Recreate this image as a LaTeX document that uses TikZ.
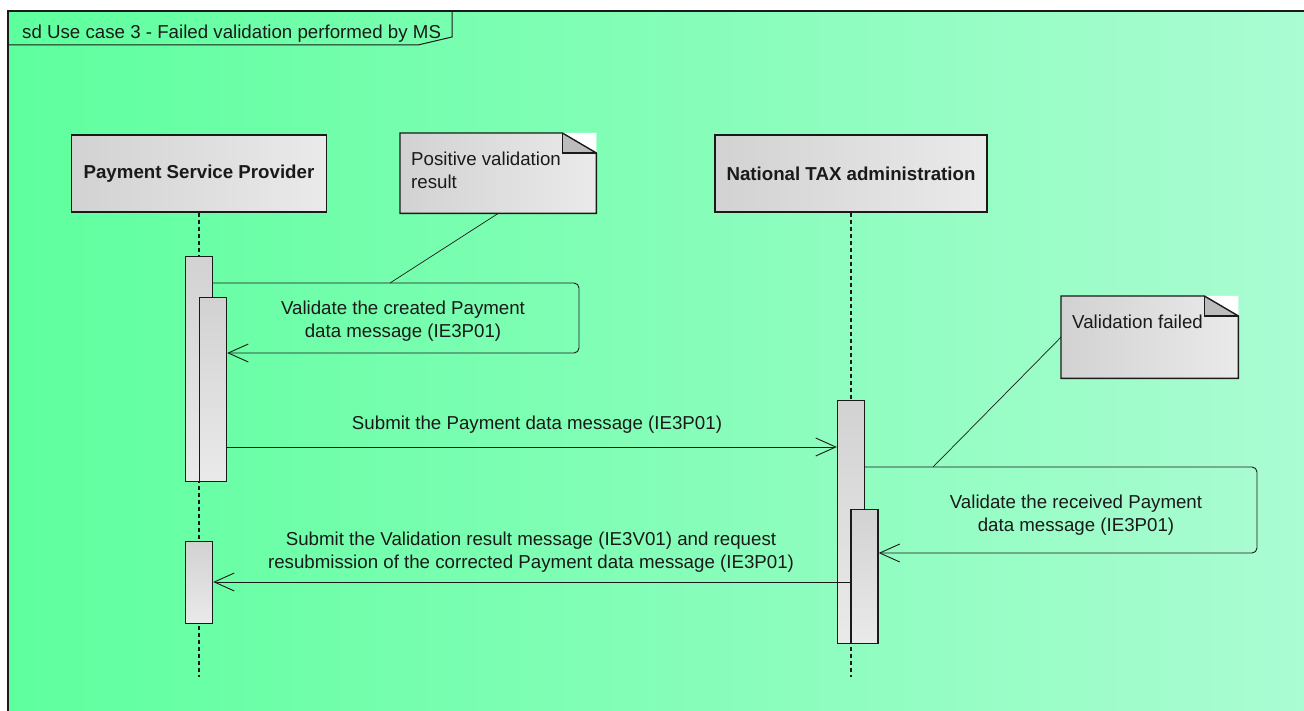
\documentclass[tikz,border=0pt]{standalone}
\usepackage{fontspec}
\setmainfont{Liberation Sans}
\usetikzlibrary{arrows.meta}

\definecolor{bgleft}{RGB}{94,255,158}
\definecolor{bgright}{RGB}{170,252,210}
\definecolor{boxdark}{RGB}{210,210,210}
\definecolor{boxlight}{RGB}{234,234,234}
\definecolor{folddark}{RGB}{188,188,188}
\definecolor{ink}{RGB}{26,26,26}

\tikzstyle{txt} = [font=\fontsize{18.7}{22.5}\selectfont, text=ink, inner sep=0pt]
\tikzstyle{lifebox} = [txt, draw=ink, line width=1.4pt, left color=boxdark, right color=boxlight, minimum height=77pt]
\tikzstyle{actbar} = [draw=ink, line width=1.4pt, top color=boxdark, bottom color=boxlight, minimum width=27pt, anchor=north, inner sep=0pt]
\tikzstyle{notebox} = [left color=boxdark, right color=boxlight, inner sep=0pt, anchor=north west]
\tikzstyle{lifeline} = [ink, line width=1.3pt, dash pattern=on 4pt off 3pt]
\tikzstyle{msg} = [ink, line width=0.9pt, -{Straight Barb[length=20pt,width=18pt]}]
\tikzstyle{noteline} = [ink, line width=0.7pt]

\begin{document}
\begin{tikzpicture}[x=1pt, y=-1pt]
    \useasboundingbox (0,0) rectangle (1304,711);
    \clip (0,0) rectangle (1304,711);
    \fill[white] (0,0) rectangle (1304,711);
    \shade[left color=bgleft, right color=bgright] (8,11) rectangle (1304,711);
    \draw[ink, line width=2pt] (8,11) rectangle (1330,740);

    % frame title
    \node[txt, anchor=base west] (title) at (22,39) {sd Use case 3 - Failed validation performed by MS};
    \draw[ink, line width=1pt] (8,45) -- (418,45) -- (452,37) -- (452,11);

    % lifelines
    \node[lifebox, minimum width=255pt] (psp) at (199,173.5) {\bfseries Payment Service Provider};
    \node[lifebox, minimum width=272pt] (nta) at (851,173.5) {\bfseries National TAX administration};
    \coordinate (pspend) at (199,677);
    \coordinate (ntaend) at (851,677);
    \draw[lifeline] (psp.south) -- (pspend);
    \draw[lifeline] (nta.south) -- (ntaend);

    \node[actbar, minimum height=225pt] (pspA) at (199,256) {};
    \node[actbar, minimum height=184pt] (pspB) at (213,297) {};
    \node[actbar, minimum height=82pt] (pspC) at (199,541) {};
    \node[actbar, minimum height=243pt] (ntaA) at (851,400) {};
    \node[actbar, minimum height=134pt] (ntaB) at (864.5,509) {};

    % messages
    \coordinate (s1a) at (579,283);
    \coordinate (s1b) at (579,353);
    \draw[msg, rounded corners=5pt] (pspA.east |- s1a) -- (s1a) -- (s1b) -- (pspB.east |- s1b);
    \node[txt, align=center] (l1) at (403,321) {Validate the created Payment\\data message (IE3P01)};

    \draw[msg] (pspB.east |- 0,447) -- (ntaA.west |- 0,447);
    \node[txt] (l2) at (537,425) {Submit the Payment data message (IE3P01)};

    \coordinate (s2a) at (1257,467);
    \coordinate (s2b) at (1257,553);
    \draw[msg, rounded corners=5pt] (ntaA.east |- s2a) -- (s2a) -- (s2b) -- (ntaB.east |- s2b);
    \node[txt, align=center] (l4) at (1076,515) {Validate the received Payment\\data message (IE3P01)};

    \draw[msg] (ntaB.west |- 0,582) -- (pspC.east |- 0,582);
    \node[txt, align=center] (l3) at (531,552) {Submit the Validation result message (IE3V01) and request\\resubmission of the corrected Payment data message (IE3P01)};

    % notes
    \node[notebox, minimum width=196pt, minimum height=80pt] (n1) at (400,133) {};
    \node[notebox, minimum width=177pt, minimum height=82pt] (n2) at (1061,296) {};
    \foreach \n in {n1,n2}{
      \fill[white] ([xshift=-34pt]\n.north east) -- (\n.north east) -- ([yshift=-20pt]\n.north east) -- cycle;
      \filldraw[fill=folddark, draw=ink, line width=1.2pt] ([xshift=-34pt]\n.north east) -- ([xshift=-34pt,yshift=-20pt]\n.north east) -- ([yshift=-20pt]\n.north east);
      \draw[ink, line width=1.4pt] (\n.north west) -- ([xshift=-34pt]\n.north east) -- ([yshift=-20pt]\n.north east) -- (\n.south east) -- (\n.south west) -- cycle;
    }
    \node[txt, anchor=north west, align=left] (n1t) at ([xshift=11pt,yshift=-19pt]n1.north west) {Positive validation\\result};
    \node[txt, anchor=north west] (n2t) at ([xshift=11pt,yshift=-19pt]n2.north west) {Validation failed};

    \coordinate (c1) at (390,283);
    \coordinate (c2) at (933,467);
    \draw[noteline] (n1.south) -- (c1);
    \draw[noteline] (n2.west) -- (c2);
\end{tikzpicture}
\end{document}
